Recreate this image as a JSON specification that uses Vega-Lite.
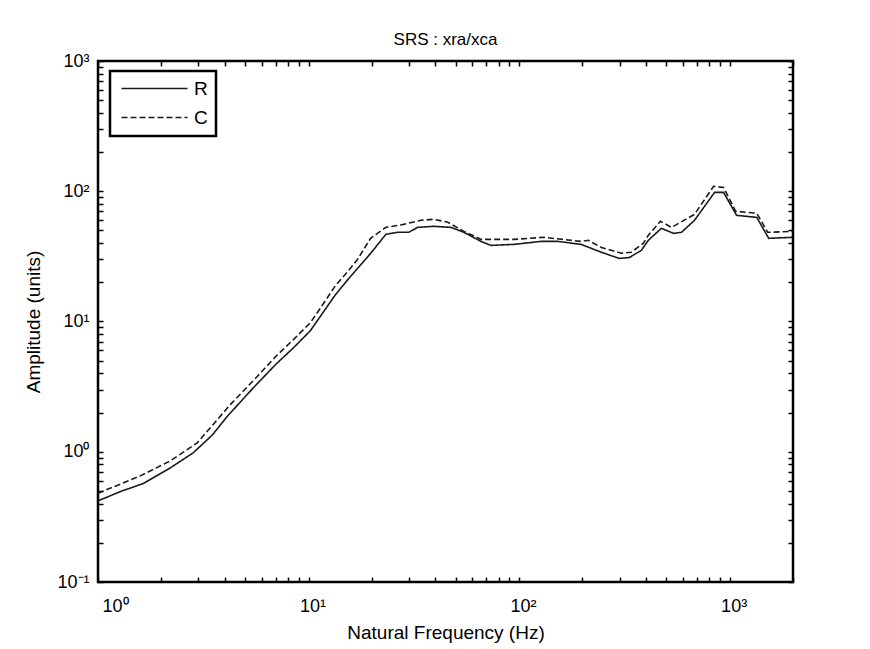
{
  "$schema": "https://vega.github.io/schema/vega-lite/v6.json",
  "width": 695,
  "height": 521,
  "autosize": {"type": "none"},
  "padding": {"left": 98, "top": 61, "right": 77, "bottom": 67},
  "background": "white",
  "title": {"text": "SRS : xra/xca", "fontSize": 17, "fontWeight": "normal", "font": "Liberation Sans", "offset": 3, "color": "black"},
  "config": {
    "view": {"stroke": "black", "strokeWidth": 2.5},
    "font": "Liberation Sans",
    "axis": {"grid": false, "domain": false, "tickColor": "black", "tickWidth": 1.5, "labelColor": "black", "titleColor": "black", "labelFont": "Liberation Sans", "titleFont": "Liberation Sans", "labelFontSize": 18, "titleFontSize": 19, "titleFontWeight": "normal"}
  },
  "data": {"values": [
    {"f": 1.0, "a": 0.42, "s": "R"},
    {"f": 1.3, "a": 0.5, "s": "R"},
    {"f": 1.64, "a": 0.57, "s": "R"},
    {"f": 2.2, "a": 0.75, "s": "R"},
    {"f": 2.83, "a": 0.98, "s": "R"},
    {"f": 3.5, "a": 1.35, "s": "R"},
    {"f": 4.1, "a": 1.86, "s": "R"},
    {"f": 5.47, "a": 3.1, "s": "R"},
    {"f": 7.0, "a": 4.7, "s": "R"},
    {"f": 8.5, "a": 6.3, "s": "R"},
    {"f": 10.2, "a": 8.5, "s": "R"},
    {"f": 11.4, "a": 11, "s": "R"},
    {"f": 13.4, "a": 16, "s": "R"},
    {"f": 15, "a": 20, "s": "R"},
    {"f": 17.1, "a": 25.6, "s": "R"},
    {"f": 19.7, "a": 33.3, "s": "R"},
    {"f": 23.3, "a": 46.7, "s": "R"},
    {"f": 26.5, "a": 48.4, "s": "R"},
    {"f": 29.9, "a": 48.4, "s": "R"},
    {"f": 33, "a": 52.8, "s": "R"},
    {"f": 39.4, "a": 53.8, "s": "R"},
    {"f": 47.5, "a": 52.8, "s": "R"},
    {"f": 54.7, "a": 48.4, "s": "R"},
    {"f": 65.9, "a": 41.2, "s": "R"},
    {"f": 73.6, "a": 38.4, "s": "R"},
    {"f": 94.6, "a": 39.1, "s": "R"},
    {"f": 127, "a": 41.2, "s": "R"},
    {"f": 153, "a": 41.2, "s": "R"},
    {"f": 197, "a": 39.1, "s": "R"},
    {"f": 246, "a": 34, "s": "R"},
    {"f": 299, "a": 30.5, "s": "R"},
    {"f": 334, "a": 31, "s": "R"},
    {"f": 381, "a": 35.2, "s": "R"},
    {"f": 411, "a": 42, "s": "R"},
    {"f": 474, "a": 51.9, "s": "R"},
    {"f": 541, "a": 47.5, "s": "R"},
    {"f": 591, "a": 48.4, "s": "R"},
    {"f": 681, "a": 59.8, "s": "R"},
    {"f": 848, "a": 98, "s": "R"},
    {"f": 936, "a": 98, "s": "R"},
    {"f": 1079, "a": 65.3, "s": "R"},
    {"f": 1345, "a": 63, "s": "R"},
    {"f": 1534, "a": 43.5, "s": "R"},
    {"f": 2000, "a": 44.3, "s": "R"},
    {"f": 1.0, "a": 0.48, "s": "C"},
    {"f": 1.58, "a": 0.65, "s": "C"},
    {"f": 2.2, "a": 0.85, "s": "C"},
    {"f": 2.96, "a": 1.17, "s": "C"},
    {"f": 3.5, "a": 1.6, "s": "C"},
    {"f": 4.25, "a": 2.3, "s": "C"},
    {"f": 5.72, "a": 3.8, "s": "C"},
    {"f": 7.0, "a": 5.4, "s": "C"},
    {"f": 8.5, "a": 7.3, "s": "C"},
    {"f": 10.2, "a": 9.8, "s": "C"},
    {"f": 11.4, "a": 12.7, "s": "C"},
    {"f": 13.4, "a": 18.8, "s": "C"},
    {"f": 15.3, "a": 24, "s": "C"},
    {"f": 17.1, "a": 30, "s": "C"},
    {"f": 19.7, "a": 43.5, "s": "C"},
    {"f": 23.3, "a": 52.8, "s": "C"},
    {"f": 28.3, "a": 55.7, "s": "C"},
    {"f": 34.2, "a": 59.9, "s": "C"},
    {"f": 39.4, "a": 60.9, "s": "C"},
    {"f": 45.9, "a": 57.8, "s": "C"},
    {"f": 54.7, "a": 49.2, "s": "C"},
    {"f": 65.9, "a": 42.7, "s": "C"},
    {"f": 94.6, "a": 42.7, "s": "C"},
    {"f": 131, "a": 44.3, "s": "C"},
    {"f": 197, "a": 41.2, "s": "C"},
    {"f": 213, "a": 42, "s": "C"},
    {"f": 246, "a": 37, "s": "C"},
    {"f": 306, "a": 33.4, "s": "C"},
    {"f": 341, "a": 34, "s": "C"},
    {"f": 389, "a": 39.8, "s": "C"},
    {"f": 411, "a": 45.9, "s": "C"},
    {"f": 469, "a": 58.8, "s": "C"},
    {"f": 530, "a": 52.8, "s": "C"},
    {"f": 681, "a": 66.5, "s": "C"},
    {"f": 839, "a": 109, "s": "C"},
    {"f": 936, "a": 107, "s": "C"},
    {"f": 1068, "a": 70.2, "s": "C"},
    {"f": 1345, "a": 67.8, "s": "C"},
    {"f": 1517, "a": 48.4, "s": "C"},
    {"f": 2000, "a": 49.2, "s": "C"}
  ]},
  "layer": [
    {
      "mark": {"type": "line", "color": "#1a1a1a", "strokeWidth": 1.6, "clip": true},
      "encoding": {
        "x": {"field": "f", "type": "quantitative", "scale": {"type": "log", "domain": [1, 2000], "nice": false},
          "axis": {"orient": "bottom", "title": "Natural Frequency (Hz)", "tickSize": -5, "labelPadding": 20, "titlePadding": 8, "labelOffset": 4,
            "values": [1,2,3,4,5,6,7,8,9,10,20,30,40,50,60,70,80,90,100,200,300,400,500,600,700,800,900,1000,2000],
            "labelExpr": "datum.value == 1 ? '10⁰' : datum.value == 10 ? '10¹' : datum.value == 100 ? '10²' : datum.value == 1000 ? '10³' : ''"}},
        "y": {"field": "a", "type": "quantitative", "scale": {"type": "log", "domain": [0.1, 1000], "nice": false},
          "axis": {"orient": "left", "title": "Amplitude (units)", "tickSize": -5, "labelPadding": 14, "titlePadding": 13,
            "values": [0.1,0.2,0.3,0.4,0.5,0.6,0.7,0.8,0.9,1,2,3,4,5,6,7,8,9,10,20,30,40,50,60,70,80,90,100,200,300,400,500,600,700,800,900,1000],
            "labelExpr": "datum.value == 0.1 ? '10⁻¹' : datum.value == 1 ? '10⁰' : datum.value == 10 ? '10¹' : datum.value == 100 ? '10²' : datum.value == 1000 ? '10³' : ''"}},
        "strokeDash": {"field": "s", "type": "nominal", "scale": {"domain": ["R", "C"], "range": [[1, 0], [6, 3]]},
          "legend": {"title": null, "orient": "none", "legendX": 12, "legendY": 10, "symbolType": "M-1.2,0H12", "symbolSize": 100, "symbolStrokeWidth": 1.6, "symbolStrokeColor": "#1a1a1a", "labelFontSize": 19, "labelColor": "black", "labelOffset": 57, "strokeColor": "black", "padding": 8, "rowPadding": 9,
            "encode": {"legend": {"update": {"strokeWidth": {"value": 2.5}}}}}}
      }
    },
    {
      "mark": {"type": "line", "opacity": 0},
      "encoding": {
        "x": {"field": "f", "type": "quantitative",
          "axis": {"orient": "top", "title": null, "tickSize": -5, "labels": false,
            "values": [1,2,3,4,5,6,7,8,9,10,20,30,40,50,60,70,80,90,100,200,300,400,500,600,700,800,900,1000,2000]}},
        "y": {"field": "a", "type": "quantitative",
          "axis": {"orient": "right", "title": null, "tickSize": -5, "labels": false,
            "values": [0.1,0.2,0.3,0.4,0.5,0.6,0.7,0.8,0.9,1,2,3,4,5,6,7,8,9,10,20,30,40,50,60,70,80,90,100,200,300,400,500,600,700,800,900,1000]}}
      }
    }
  ]
}
